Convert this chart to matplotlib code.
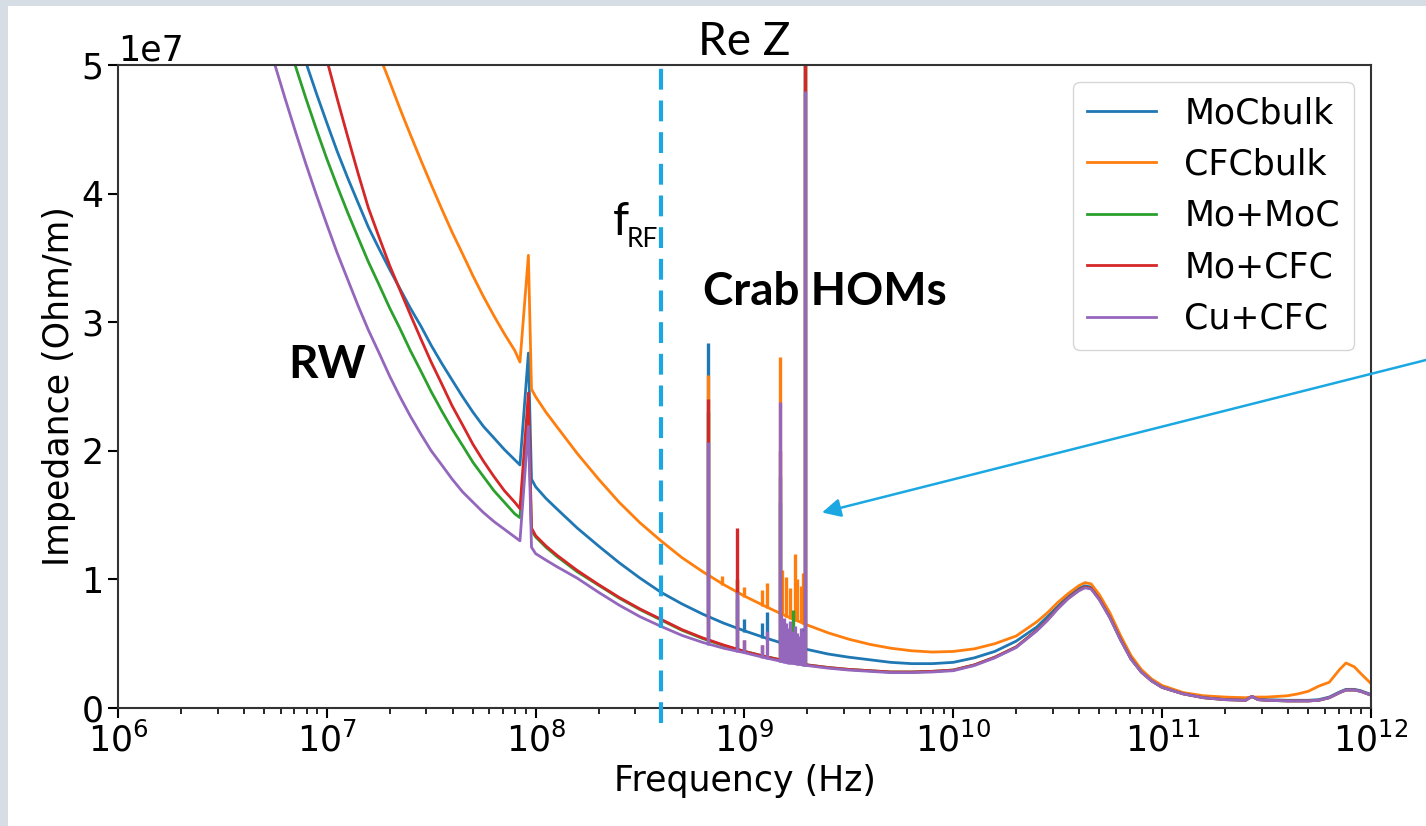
import numpy as np
import matplotlib
matplotlib.use('Agg')
import matplotlib.pyplot as plt
from matplotlib.patches import Rectangle

# frequency grid (Hz) for the smooth part of the curves
freq = [3.98e6, 4.47e6, 5.01e6, 5.62e6, 6.31e6, 7.08e6, 7.94e6, 8.91e6, 1.0e7, 1.12e7,
        1.26e7, 1.41e7, 1.58e7, 1.78e7, 2.0e7, 2.24e7, 2.51e7, 2.82e7, 3.16e7, 3.55e7,
        3.98e7, 4.47e7, 5.01e7, 5.62e7, 6.31e7, 7.08e7, 7.94e7, 8.41e7, 9.23e7, 9.55e7,
        1.0e8, 1.12e8, 1.26e8, 1.58e8, 2.0e8, 2.51e8, 3.16e8, 3.98e8, 5.01e8, 6.31e8,
        7.94e8, 1.0e9, 1.26e9, 1.58e9, 2.0e9, 2.51e9, 3.16e9, 3.98e9, 5.01e9, 6.31e9,
        7.94e9, 1.0e10, 1.26e10, 1.58e10, 2.0e10, 2.51e10, 2.82e10, 3.16e10, 3.55e10, 3.98e10,
        4.27e10, 4.57e10, 5.01e10, 5.62e10, 6.31e10, 7.08e10, 7.94e10, 8.91e10, 1.0e11, 1.26e11,
        1.58e11, 2.0e11, 2.51e11, 2.69e11, 2.88e11, 3.16e11, 3.98e11, 4.47e11, 5.01e11, 5.62e11,
        6.31e11, 7.08e11, 7.59e11, 8.32e11, 8.91e11, 1.0e12]

# Re Z in units of 1e7 Ohm/m
mocbulk = [6.65, 6.38, 6.11, 5.83, 5.56, 5.29, 5.02, 4.78, 4.55, 4.33,
           4.12, 3.93, 3.74, 3.57, 3.41, 3.26, 3.11, 2.97, 2.82, 2.68,
           2.55, 2.42, 2.30, 2.19, 2.10, 2.01, 1.93, 1.89, 2.76, 1.78,
           1.72, 1.63, 1.55, 1.40, 1.26, 1.13, 1.01, 0.90, 0.81, 0.73,
           0.66, 0.60, 0.545, 0.495, 0.455, 0.42, 0.395, 0.375, 0.355, 0.345,
           0.345, 0.355, 0.39, 0.44, 0.52, 0.63, 0.71, 0.79, 0.87, 0.93,
           0.95, 0.94, 0.855, 0.715, 0.545, 0.39, 0.285, 0.215, 0.165, 0.115,
           0.085, 0.07, 0.065, 0.09, 0.07, 0.065, 0.06, 0.06, 0.06, 0.065,
           0.085, 0.125, 0.145, 0.145, 0.135, 0.105]
cfcbulk = [8.48, 8.17, 7.87, 7.58, 7.30, 7.03, 6.76, 6.50, 6.24, 6.00,
           5.76, 5.53, 5.30, 5.08, 4.87, 4.66, 4.46, 4.26, 4.07, 3.88,
           3.70, 3.53, 3.36, 3.20, 3.05, 2.91, 2.78, 2.69, 3.52, 2.48,
           2.42, 2.30, 2.19, 1.98, 1.78, 1.60, 1.44, 1.30, 1.17, 1.06,
           0.96, 0.87, 0.79, 0.715, 0.645, 0.585, 0.535, 0.495, 0.465, 0.445,
           0.435, 0.44, 0.46, 0.50, 0.56, 0.67, 0.74, 0.82, 0.89, 0.95,
           0.975, 0.965, 0.88, 0.74, 0.565, 0.41, 0.30, 0.225, 0.175, 0.12,
           0.095, 0.085, 0.08, 0.085, 0.085, 0.085, 0.095, 0.11, 0.13, 0.17,
           0.20, 0.30, 0.35, 0.32, 0.27, 0.19]
mo_moc = [6.39, 6.11, 5.83, 5.55, 5.27, 4.99, 4.74, 4.50, 4.27, 4.06,
          3.85, 3.66, 3.47, 3.29, 3.11, 2.95, 2.78, 2.62, 2.46, 2.31,
          2.17, 2.04, 1.91, 1.80, 1.69, 1.60, 1.51, 1.48, 2.30, 1.38,
          1.33, 1.25, 1.18, 1.06, 0.955, 0.855, 0.765, 0.685, 0.605, 0.54,
          0.485, 0.44, 0.40, 0.365, 0.335, 0.315, 0.30, 0.29, 0.28, 0.28,
          0.285, 0.295, 0.335, 0.395, 0.475, 0.605, 0.685, 0.775, 0.855, 0.915,
          0.94, 0.93, 0.845, 0.705, 0.535, 0.385, 0.28, 0.21, 0.16, 0.11,
          0.08, 0.065, 0.06, 0.09, 0.065, 0.06, 0.055, 0.055, 0.055, 0.06,
          0.08, 0.12, 0.14, 0.14, 0.13, 0.10]
mo_cfc = [7.56, 7.25, 6.94, 6.63, 6.30, 5.98, 5.66, 5.35, 5.04, 4.74,
          4.44, 4.16, 3.89, 3.66, 3.44, 3.25, 3.06, 2.87, 2.69, 2.52,
          2.35, 2.20, 2.05, 1.92, 1.80, 1.69, 1.60, 1.55, 2.45, 1.40,
          1.34, 1.26, 1.19, 1.07, 0.96, 0.86, 0.77, 0.69, 0.61, 0.545,
          0.49, 0.44, 0.40, 0.365, 0.335, 0.315, 0.30, 0.29, 0.28, 0.28,
          0.285, 0.295, 0.335, 0.395, 0.475, 0.605, 0.685, 0.775, 0.855, 0.915,
          0.94, 0.93, 0.845, 0.705, 0.535, 0.385, 0.28, 0.21, 0.16, 0.11,
          0.08, 0.065, 0.06, 0.09, 0.065, 0.06, 0.055, 0.055, 0.055, 0.06,
          0.08, 0.12, 0.14, 0.14, 0.13, 0.10]
cu_cfc = [5.88, 5.58, 5.29, 5.01, 4.74, 4.48, 4.23, 3.99, 3.76, 3.54,
          3.33, 3.13, 2.94, 2.76, 2.58, 2.42, 2.27, 2.13, 2.00, 1.89,
          1.78, 1.68, 1.60, 1.52, 1.45, 1.39, 1.33, 1.30, 2.19, 1.25,
          1.20, 1.15, 1.10, 1.01, 0.90, 0.80, 0.71, 0.635, 0.565, 0.51,
          0.465, 0.43, 0.39, 0.355, 0.33, 0.31, 0.295, 0.285, 0.275, 0.275,
          0.28, 0.29, 0.33, 0.39, 0.47, 0.60, 0.68, 0.77, 0.85, 0.91,
          0.935, 0.925, 0.84, 0.70, 0.53, 0.38, 0.28, 0.21, 0.16, 0.11,
          0.08, 0.065, 0.06, 0.09, 0.065, 0.06, 0.055, 0.055, 0.055, 0.06,
          0.08, 0.12, 0.14, 0.14, 0.13, 0.10]

# crab cavity HOM spikes: frequency, foot and top (1e7 Ohm/m)
mocbulk_hom_f = [6.7e8, 9.2e8, 1.0e9, 1.21e9, 1.28e9, 1.48e9, 1.90e9, 1.95e9]
mocbulk_hom_lo = [0.70, 0.61, 0.59, 0.545, 0.53, 0.50, 0.46, 0.45]
mocbulk_hom_hi = [2.84, 0.85, 0.69, 0.66, 0.75, 1.60, 0.62, 6.0]

cfcbulk_hom_f = [6.7e8, 7.8e8, 9.2e8, 1.0e9, 1.21e9, 1.28e9, 1.48e9, 1.51e9,
                 1.58e9, 1.66e9, 1.74e9, 1.78e9, 1.86e9, 1.91e9, 1.95e9]
cfcbulk_hom_lo = [1.02, 0.96, 0.89, 0.86, 0.79, 0.775, 0.73, 0.72,
                  0.705, 0.69, 0.68, 0.675, 0.665, 0.655, 0.65]
cfcbulk_hom_hi = [2.59, 1.03, 1.00, 0.94, 0.92, 0.97, 2.73, 1.07,
                  1.02, 0.93, 1.20, 1.00, 0.95, 1.05, 6.0]

mo_moc_hom_f = [6.7e8, 9.2e8, 1.48e9, 1.70e9, 1.95e9]
mo_moc_hom_lo = [0.52, 0.45, 0.37, 0.35, 0.335]
mo_moc_hom_hi = [2.30, 1.00, 1.80, 0.76, 6.0]

mo_cfc_hom_f = [6.7e8, 9.2e8, 1.0e9, 1.21e9, 1.48e9, 1.95e9]
mo_cfc_hom_lo = [0.52, 0.45, 0.435, 0.40, 0.37, 0.335]
mo_cfc_hom_hi = [2.40, 1.40, 0.53, 0.49, 2.00, 6.0]

cu_cfc_hom_f = [6.7e8, 9.2e8, 1.0e9, 1.21e9, 1.28e9, 1.48e9, 1.50e9, 1.54e9,
                1.58e9, 1.62e9, 1.66e9, 1.70e9, 1.74e9, 1.78e9, 1.82e9, 1.86e9,
                1.90e9, 1.93e9, 1.95e9]
cu_cfc_hom_lo = [0.49, 0.435, 0.425, 0.39, 0.38, 0.36, 0.355, 0.35,
                 0.35, 0.345, 0.345, 0.34, 0.34, 0.335, 0.335, 0.335,
                 0.33, 0.33, 0.33]
cu_cfc_hom_hi = [2.07, 0.90, 0.53, 0.49, 0.60, 2.38, 0.72, 0.70,
                 0.66, 0.62, 0.68, 0.60, 0.64, 0.58, 0.56, 0.62,
                 0.55, 0.60, 4.8]

f_rf = 4.0e8
arrow_tip = (2.35e9, 1.52e7)

series = [
    ('MoCbulk', mocbulk, mocbulk_hom_f, mocbulk_hom_lo, mocbulk_hom_hi, '#1f77b4'),
    ('CFCbulk', cfcbulk, cfcbulk_hom_f, cfcbulk_hom_lo, cfcbulk_hom_hi, '#ff7f0e'),
    ('Mo+MoC', mo_moc, mo_moc_hom_f, mo_moc_hom_lo, mo_moc_hom_hi, '#2ca02c'),
    ('Mo+CFC', mo_cfc, mo_cfc_hom_f, mo_cfc_hom_lo, mo_cfc_hom_hi, '#d62728'),
    ('Cu+CFC', cu_cfc, cu_cfc_hom_f, cu_cfc_hom_lo, cu_cfc_hom_hi, '#9467bd'),
]

W, H = 1426, 826
slide_blue = '#1ba8e2'

fig = plt.figure(figsize=(W / 100, H / 100), dpi=100, facecolor='#d7dde5')
fig.add_artist(Rectangle((8 / W, 0), 1, 820 / H, transform=fig.transFigure,
                         facecolor='white', edgecolor='none', zorder=-5))
ax = fig.add_axes([118 / W, 118 / H, 1253 / W, 643 / H])

for name, vals, hf, lo, hi, col in series:
    ax.plot(freq, np.array(vals) * 1e7, color=col, lw=2, label=name)
    ax.vlines(hf, np.array(lo) * 1e7, np.array(hi) * 1e7, color=col, lw=2.4)

ax.set_xscale('log')
ax.set_xlim(1e6, 1e12)
ax.set_ylim(0, 5e7)
ax.tick_params(labelsize=25, width=1.5, length=7)
ax.tick_params(which='minor', width=1.2, length=4)
ax.yaxis.get_offset_text().set_fontsize(25)
for s in ax.spines.values():
    s.set_linewidth(1.5)
    s.set_color('#333333')
ax.set_xlabel('Frequency (Hz)', fontsize=25)
ax.set_ylabel('Impedance (Ohm/m)', fontsize=25)
ax.legend(loc='upper right', fontsize=25)

# slide annotations
ax.set_title('Re Z', fontsize=33, family='Lato', pad=7)
ax.axvline(f_rf, ymin=-0.023, ymax=1, color=slide_blue, lw=3, dashes=(5, 2.6),
           clip_on=False, zorder=5)
fig.text(288 / W, 1 - 378 / H, 'RW', family='Lato', fontweight='bold',
         fontsize=33, va='baseline')
fig.text(703 / W, 1 - 305 / H, 'Crab HOMs', family='Lato', fontweight='bold',
         fontsize=33, va='baseline')
fig.text(613 / W, 1 - 235 / H, 'f', family='Lato', fontsize=33, va='baseline')
fig.text(627 / W, 1 - 247 / H, 'RF', family='Lato', fontsize=19, va='baseline')
ax.annotate('', xy=arrow_tip, xycoords='data', xytext=(1.0, 1 - 360 / H),
            textcoords='figure fraction', annotation_clip=False,
            arrowprops=dict(arrowstyle='-|>', color=slide_blue, lw=1.8,
                            mutation_scale=28, shrinkA=0, shrinkB=0))

fig.savefig('out.png', dpi=100, facecolor=fig.get_facecolor())
